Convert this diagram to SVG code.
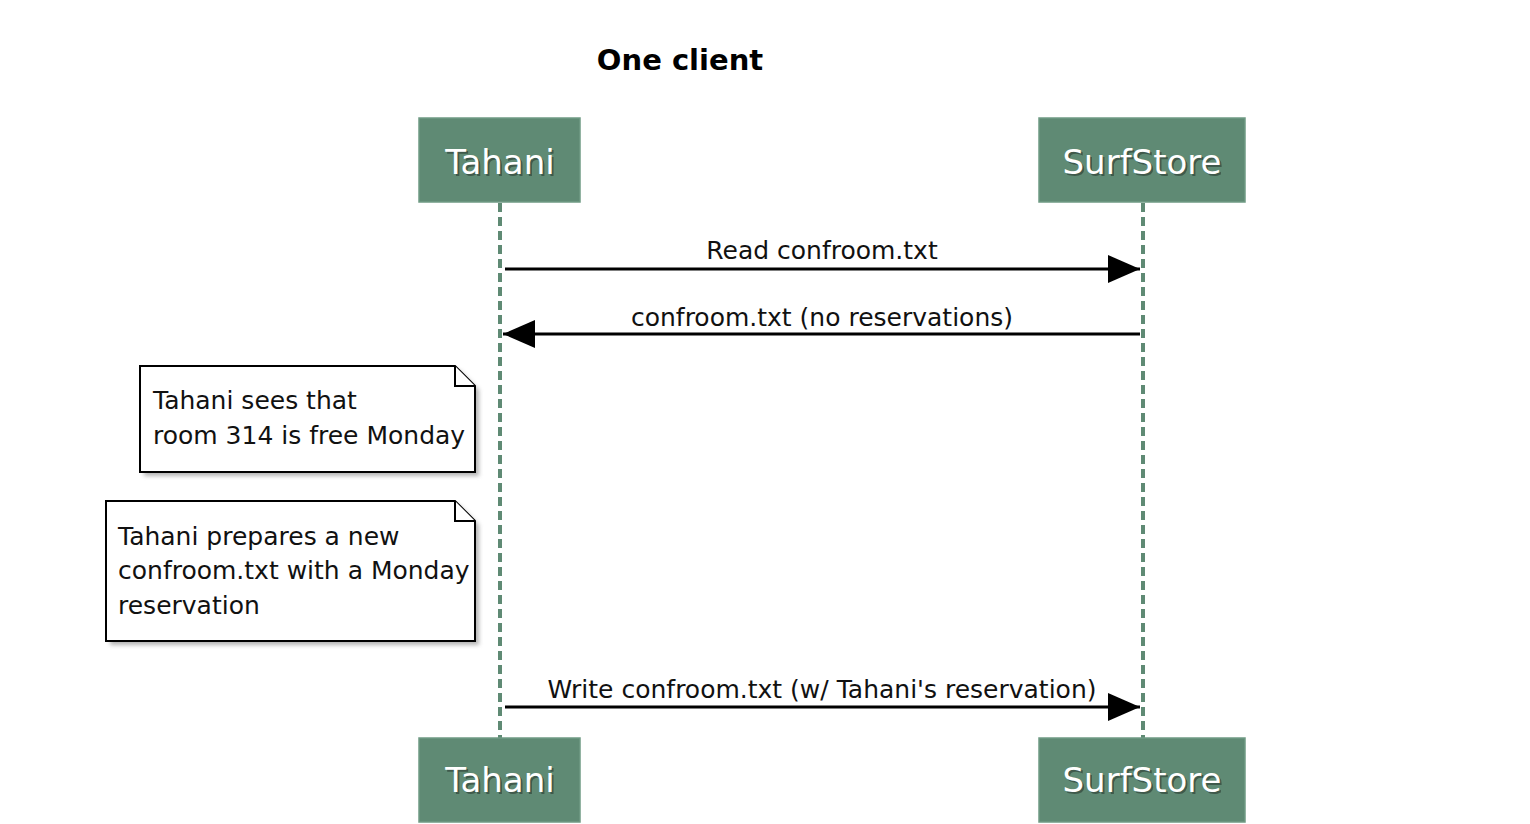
<svg xmlns="http://www.w3.org/2000/svg" width="1530" height="824" viewBox="0 0 1530 824">
<defs>
<style>
.actor{fill:#5f8a74;stroke:#6f9a84;stroke-width:1.5}
.atext{font-family:"DejaVu Sans",sans-serif;font-size:34px;fill:#fff;text-anchor:middle}
.ashadow{font-family:"DejaVu Sans",sans-serif;font-size:34px;fill:#2a3a30;text-anchor:middle;opacity:0.6}
.life{stroke:#5f8a74;stroke-width:4;stroke-dasharray:9,5;fill:none}
.msg{stroke:#000;stroke-width:3;fill:none}
.mtext{font-family:"DejaVu Sans",sans-serif;font-size:25px;fill:#111;text-anchor:middle}
.note{fill:#fff;stroke:#000;stroke-width:2}
.shadow{fill:#777;opacity:0.55}
.ntext{font-family:"DejaVu Sans",sans-serif;font-size:25px;fill:#111}
.title{font-family:"DejaVu Sans",sans-serif;font-size:29px;font-weight:bold;fill:#000;text-anchor:middle}
</style>
<marker id="ah" markerWidth="32" markerHeight="28" refX="32" refY="14" orient="auto" markerUnits="userSpaceOnUse">
<path d="M0,0 L32,14 L0,28 Z" fill="#000"/>
</marker>
<filter id="blur"><feGaussianBlur stdDeviation="2"/></filter>
</defs>
<rect width="1530" height="824" fill="#fff"/>
<text class="title" x="680" y="70">One client</text>

<g id="lifelines">
<line class="life" x1="500" y1="203" x2="500" y2="738"/>
<line class="life" x1="1143" y1="203" x2="1143" y2="738"/>
</g>

<g id="tahani-top">
<rect class="actor" x="419" y="118" width="161" height="84"/>
<text class="ashadow" x="502" y="176">Tahani</text>
<text class="atext" x="500" y="174">Tahani</text>
</g>
<g id="surfstore-top">
<rect class="actor" x="1039" y="118" width="206" height="84"/>
<text class="ashadow" x="1144" y="176">SurfStore</text>
<text class="atext" x="1142" y="174">SurfStore</text>
</g>
<g id="tahani-bottom">
<rect class="actor" x="419" y="738" width="161" height="84"/>
<text class="ashadow" x="502" y="794">Tahani</text>
<text class="atext" x="500" y="792">Tahani</text>
</g>
<g id="surfstore-bottom">
<rect class="actor" x="1039" y="738" width="206" height="84"/>
<text class="ashadow" x="1144" y="794">SurfStore</text>
<text class="atext" x="1142" y="792">SurfStore</text>
</g>

<g id="note1">
<path class="shadow" filter="url(#blur)" d="M144,370 L459,370 L479,390 L479,476 L144,476 Z"/>
<path class="note" d="M140,366 L455,366 L475,386 L475,472 L140,472 Z"/>
<path class="note" d="M455,366 L455,386 L475,386"/>
<text class="ntext" x="153" y="409">Tahani sees that</text>
<text class="ntext" x="153" y="444">room 314 is free Monday</text>
</g>

<g id="note2">
<path class="shadow" filter="url(#blur)" d="M110,505 L459,505 L479,525 L479,645 L110,645 Z"/>
<path class="note" d="M106,501 L455,501 L475,521 L475,641 L106,641 Z"/>
<path class="note" d="M455,501 L455,521 L475,521"/>
<text class="ntext" x="118" y="545">Tahani prepares a new</text>
<text class="ntext" x="118" y="579">confroom.txt with a Monday</text>
<text class="ntext" x="118" y="614">reservation</text>
</g>

<g id="connectors">
<line class="msg" x1="505" y1="269" x2="1140" y2="269" marker-end="url(#ah)"/>
<text class="mtext" x="822" y="259">Read confroom.txt</text>
<line class="msg" x1="1140" y1="334" x2="503" y2="334" marker-end="url(#ah)"/>
<text class="mtext" x="822" y="326">confroom.txt (no reservations)</text>
<line class="msg" x1="505" y1="707" x2="1140" y2="707" marker-end="url(#ah)"/>
<text class="mtext" x="822" y="698">Write confroom.txt (w/ Tahani's reservation)</text>
</g>
</svg>
